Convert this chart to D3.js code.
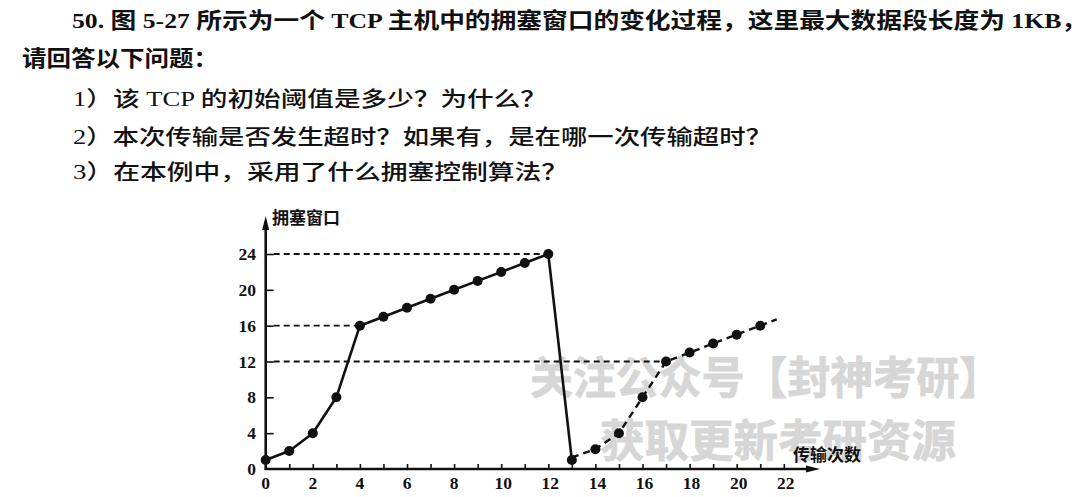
<!DOCTYPE html>
<html>
<head>
<meta charset="utf-8">
<script src="https://cdn.jsdelivr.net/npm/d3@7"></script>
<style>
  html, body { margin: 0; padding: 0; background: #fff; }
  svg { display: block; }
</style>
</head>
<body>
<svg id="chart" width="1081" height="497"></svg>
<script>
// ---- data ----
const rounds      = [0,1,2,3,4,5,6,7,8,9,10,11,12,13];
const cwndSolid   = [1,2,4,8,16,17,18,19,20,21,22,23,24,1];
const roundsDash  = [13,14,15,16,17,18,19,20,21];
const cwndDash    = [1.3,2.2,4,8,12,13,14,15,16];
const dashTail    = [21.7, 16.7];          // dashed line continues past last point
const xTicks      = [0,2,4,6,8,10,12,14,16,18,20,22];
const yTicks      = [0,4,8,12,16,20,24];
const refLines    = [{v:24, to:12}, {v:16, to:4}, {v:12, to:17}];
const yLabel = "拥塞窗口";
const xLabel = "传输次数";
const question = [
  "50. 图 5-27 所示为一个 TCP 主机中的拥塞窗口的变化过程，这里最大数据段长度为 1KB，",
  "请回答以下问题：",
  "1）该 TCP 的初始阈值是多少？为什么？",
  "2）本次传输是否发生超时？如果有，是在哪一次传输超时？",
  "3）在本例中，采用了什么拥塞控制算法？"
];
const watermark = ["关注公众号【封神考研】", "获取更新考研资源"];

// ---- drawing ----
const svg = d3.select("#chart");
const latinCjk = "'Liberation Serif', 'Noto Sans CJK SC', serif";

// question text
const qLayout = [
  {x:72, y:28, len:1015, size:22, w:"bold"},
  {x:22, y:66, len:196, size:22, w:"bold"},
  {x:73, y:106, len:474, size:21, w:"500"},
  {x:73, y:144, len:699, size:21, w:"500"},
  {x:73, y:179, len:495, size:21, w:"500"}
];
question.forEach((t, i) => {
  const L = qLayout[i];
  svg.append("text")
    .attr("x", L.x).attr("y", L.y)
    .attr("font-family", latinCjk)
    .attr("font-size", L.size)
    .attr("font-weight", L.w)
    .attr("fill", "#111")
    .attr("textLength", L.len)
    .attr("lengthAdjust", "spacingAndGlyphs")
    .text(t);
});

// watermark (behind chart)
const wm = [{x:530, y:394, len:472}, {x:600, y:457, len:356}];
watermark.forEach((t, i) => {
  svg.append("text")
    .attr("x", wm[i].x).attr("y", wm[i].y)
    .attr("font-family", "'Noto Sans CJK SC', sans-serif")
    .attr("font-size", 44)
    .attr("font-weight", "bold")
    .attr("fill", "#d6d6d6")
    .attr("stroke", "#d6d6d6").attr("stroke-width", 0.8)
    .attr("textLength", wm[i].len)
    .attr("lengthAdjust", "spacingAndGlyphs")
    .text(t);
});

// scales
const x = d3.scaleLinear().domain([0, 22]).range([265.7, 783.8]);
const y = d3.scaleLinear().domain([0, 24]).range([469, 254]);

const g = svg.append("g");

// reference dashed lines
g.selectAll(".ref").data(refLines).enter().append("line")
  .attr("x1", x(0) + 8).attr("x2", d => x(d.to))
  .attr("y1", d => y(d.v)).attr("y2", d => y(d.v))
  .attr("stroke", "#111").attr("stroke-width", 1.8)
  .attr("stroke-dasharray", "6,4");

// x axis
const xAxis = d3.axisBottom(x)
  .tickValues(d3.range(1, 23))
  .tickSizeInner(-5).tickSizeOuter(0)
  .tickFormat("");
const gx = g.append("g").attr("transform", `translate(0,${y(0)})`).call(xAxis);
gx.select(".domain").remove();
gx.selectAll(".tick line").attr("stroke", "#111").attr("stroke-width", 1.6);
g.append("line")
  .attr("x1", x(0) - 1).attr("x2", 812)
  .attr("y1", y(0)).attr("y2", y(0))
  .attr("stroke", "#111").attr("stroke-width", 2.6);
g.append("path")
  .attr("d", `M820,${y(0)} L806,${y(0)-3.5} L806,${y(0)+3.5} Z`)
  .attr("fill", "#111");

// x tick labels
g.selectAll(".xl").data(xTicks).enter().append("text")
  .attr("x", d => x(d) + (d >= 10 ? 2 : 0)).attr("y", 489)
  .attr("text-anchor", "middle")
  .attr("font-family", "'Liberation Serif', serif")
  .attr("font-weight", "bold").attr("font-size", 17.5)
  .attr("fill", "#111")
  .text(d => d);

// y axis
const yAxis = d3.axisRight(y)
  .tickValues(yTicks.filter(v => v > 0))
  .tickSizeInner(8).tickSizeOuter(0)
  .tickFormat("");
const gy = g.append("g").attr("transform", `translate(${x(0)},0)`).call(yAxis);
gy.select(".domain").remove();
gy.selectAll(".tick line").attr("stroke", "#111").attr("stroke-width", 1.6);
g.append("line")
  .attr("x1", x(0)).attr("x2", x(0))
  .attr("y1", y(0) + 1).attr("y2", 226)
  .attr("stroke", "#111").attr("stroke-width", 2.6);
g.append("path")
  .attr("d", `M${x(0)},216 L${x(0)-3.5},230 L${x(0)+3.5},230 Z`)
  .attr("fill", "#111");

// y tick labels
g.selectAll(".yl").data(yTicks).enter().append("text")
  .attr("x", 256).attr("y", d => y(d) + 6)
  .attr("text-anchor", "end")
  .attr("font-family", "'Liberation Serif', serif")
  .attr("font-weight", "bold").attr("font-size", 17.5)
  .attr("fill", "#111")
  .text(d => d);

// axis titles
g.append("text").attr("x", 272).attr("y", 224)
  .attr("font-family", "'Noto Sans CJK SC', sans-serif")
  .attr("font-weight", "bold").attr("font-size", 17)
  .attr("fill", "#111").text(yLabel);
g.append("text").attr("x", 793).attr("y", 461)
  .attr("font-family", "'Noto Sans CJK SC', sans-serif")
  .attr("font-weight", "bold").attr("font-size", 17)
  .attr("fill", "#111").text(xLabel);

// solid curve
const solidPts = rounds.map((r, i) => [r, cwndSolid[i]]);
const line = d3.line().x(d => x(d[0])).y(d => y(d[1]));
g.append("path").datum(solidPts)
  .attr("d", line)
  .attr("fill", "none").attr("stroke", "#111").attr("stroke-width", 2.6)
  .attr("stroke-linejoin", "round");

// dashed curve
const dashPts = roundsDash.map((r, i) => [r, cwndDash[i]]).concat([dashTail]);
g.append("path").datum(dashPts)
  .attr("d", line)
  .attr("fill", "none").attr("stroke", "#111").attr("stroke-width", 2.4)
  .attr("stroke-dasharray", "7,5");

// markers
g.selectAll(".ms").data(solidPts).enter().append("circle")
  .attr("cx", d => x(d[0])).attr("cy", d => y(d[1])).attr("r", 5)
  .attr("fill", "#111");
g.selectAll(".md").data(dashPts.slice(1, -1)).enter().append("circle")
  .attr("cx", d => x(d[0])).attr("cy", d => y(d[1])).attr("r", 5)
  .attr("fill", "#111");
</script>
</body>
</html>
